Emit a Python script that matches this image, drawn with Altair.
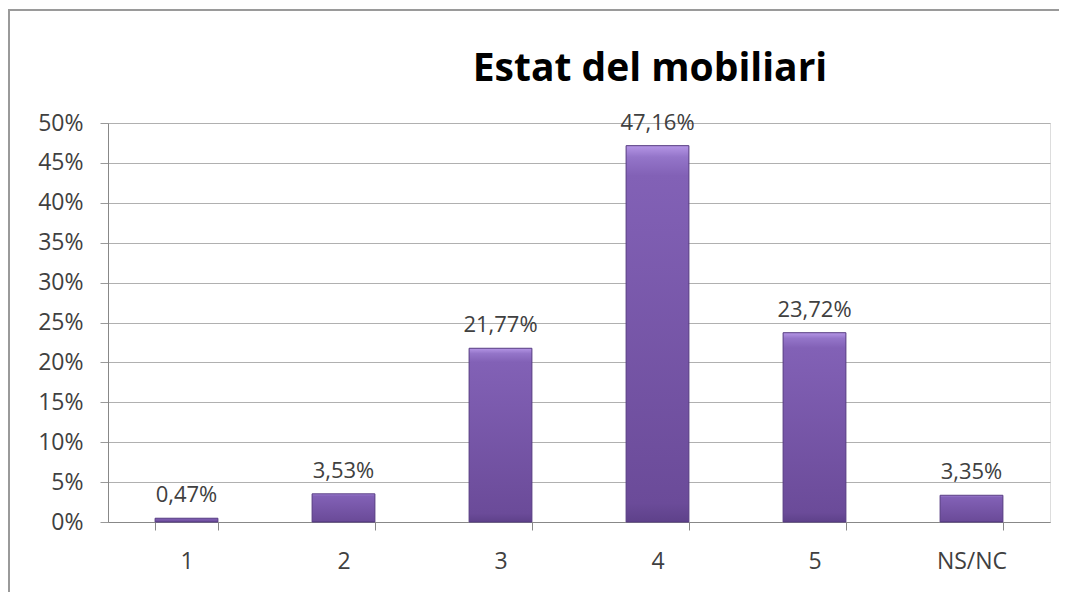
import altair as alt
import pandas as pd

categories = ["1", "2", "3", "4", "5", "NS/NC"]
values = [0.47, 3.53, 21.77, 47.16, 23.72, 3.35]
y_ticks = [0, 5, 10, 15, 20, 25, 30, 35, 40, 45, 50]
title_text = "Estat del mobiliari"

df = pd.DataFrame({"cat": categories, "val": values})

FONT = "Open Sans"
TEXT = "#404040"

x_enc = alt.X("cat:N", sort=categories, title=None,
              scale=alt.Scale(paddingInner=0.6, paddingOuter=0.3),
              axis=alt.Axis(labelAngle=0, labelFont=FONT, labelFontSize=23,
                            labelColor=TEXT, labelPadding=20, tickBand="extent",
                            tickSize=8, tickColor="#888888", domainColor="#888888",
                            grid=False))
y_enc = alt.Y("val:Q", title=None,
              scale=alt.Scale(domain=[0, 50], nice=False),
              axis=alt.Axis(values=y_ticks, labelExpr="datum.value + '%'",
                            labelOverlap=False, tickCount=11,
                            labelFont=FONT, labelFontSize=23, labelColor=TEXT,
                            labelPadding=17, tickSize=8, tickColor="#999999",
                            domainColor="#888888", gridColor="#b0b0b0",
                            gridWidth=1.2))

base = alt.Chart(df)

bars = base.mark_bar(
    stroke="#553a80", strokeWidth=1,
    color=alt.Gradient(
        gradient="linear", x1=0, y1=0, x2=0, y2=1,
        stops=[alt.GradientStop(offset=0, color="#b596e6"),
               alt.GradientStop(offset=0.03, color="#9475c9"),
               alt.GradientStop(offset=0.08, color="#8261b6"),
               alt.GradientStop(offset=0.95, color="#6b4b99"),
               alt.GradientStop(offset=1, color="#5e418a")])
).encode(x=x_enc, y=y_enc)

labels = base.transform_calculate(
    lab="replace(format(datum.val, '.2f'), '.', ',') + '%'"
).mark_text(font=FONT, fontSize=22, color=TEXT, dy=-11, baseline="bottom").encode(
    x=alt.X("cat:N", sort=categories), y="val:Q", text="lab:N")

one = pd.DataFrame({"t": [title_text]})

title = alt.Chart(one).mark_text(
    font=FONT, fontSize=39, fontWeight="bold", color="#000000",
    align="center", baseline="alphabetic"
).encode(text="t:N", x=alt.value(542), y=alt.value(-42))

border = alt.Chart(one).mark_rect(
    fill=None, stroke="#9a9a9a", strokeWidth=2
).encode(x=alt.value(-99), x2=alt.value(3000), y=alt.value(-113), y2=alt.value(3000))

chart = alt.layer(bars, labels, title, border).properties(
    width=942, height=399,
    autosize=alt.AutoSizeParams(type="none"),
    padding={"left": 100, "top": 115, "right": 9, "bottom": 70},
).configure_view(stroke=None).configure(background="white")

chart.save("out.html", embed_options={"renderer": "svg", "actions": False})
